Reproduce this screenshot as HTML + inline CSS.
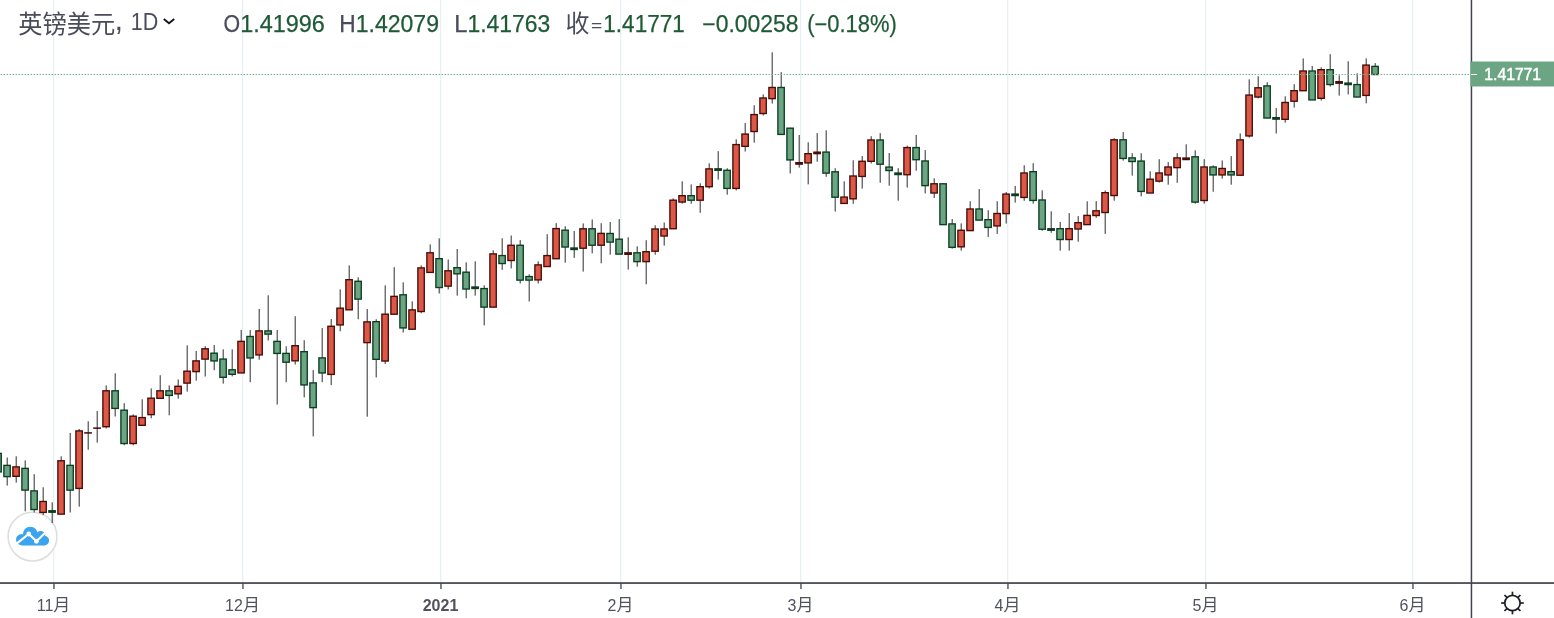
<!DOCTYPE html>
<html lang="zh"><head><meta charset="utf-8"><title>英镑美元 1D</title>
<style>html,body{margin:0;padding:0;background:#fff;overflow:hidden}svg{display:block}text{font-family:"Liberation Sans","Noto Sans CJK SC",sans-serif}</style>
</head><body>
<svg width="1554" height="618" viewBox="0 0 1554 618">
<rect width="1554" height="618" fill="#fff"/>
<g fill="#e6f0f5">
<rect x="53" y="0" width="1.3" height="582"/>
<rect x="242" y="0" width="1.3" height="582"/>
<rect x="440" y="0" width="1.3" height="582"/>
<rect x="620" y="0" width="1.3" height="582"/>
<rect x="800" y="0" width="1.3" height="582"/>
<rect x="1007" y="0" width="1.3" height="582"/>
<rect x="1205" y="0" width="1.3" height="582"/>
<rect x="1412" y="0" width="1.3" height="582"/>
</g>
<g>
<circle cx="32.5" cy="536.6" r="24.4" fill="#fff" stroke="#dedede" stroke-width="1.6"/>
<g fill="#3ba4ee"><circle cx="21.6" cy="539.6" r="5.6"/><circle cx="30.3" cy="534" r="7.3"/><circle cx="40.6" cy="535.5" r="4.6"/><circle cx="44.2" cy="540.6" r="4.9"/><rect x="21.6" y="538" width="22.6" height="7.5"/></g>
<polyline points="16.3,543.9 28.8,534 36.4,541.3 46.5,531.6" fill="none" stroke="#fff" stroke-width="2.1"/>
<circle cx="28.8" cy="534" r="2.4" fill="#fff"/><circle cx="36.4" cy="541.3" r="2.4" fill="#fff"/>
</g>
<g fill="#4d4d50"><rect x="-2.37" y="453.0" width="1.17" height="19.0"/><rect x="6.63" y="457.5" width="1.17" height="28.1"/><rect x="15.63" y="456.3" width="1.17" height="26.3"/><rect x="24.63" y="460.4" width="1.17" height="50.9"/><rect x="33.63" y="474.2" width="1.17" height="38.3"/><rect x="42.63" y="487.3" width="1.17" height="27.7"/><rect x="51.63" y="502.3" width="1.17" height="20.7"/><rect x="60.63" y="456.3" width="1.17" height="57.9"/><rect x="69.63" y="432.9" width="1.17" height="79.6"/><rect x="78.63" y="429.0" width="1.17" height="77.7"/><rect x="87.63" y="421.2" width="1.17" height="28.5"/><rect x="96.63" y="411.1" width="1.17" height="31.5"/><rect x="105.63" y="385.4" width="1.17" height="43.0"/><rect x="114.63" y="373.3" width="1.17" height="43.2"/><rect x="123.63" y="403.2" width="1.17" height="42.1"/><rect x="132.63" y="414.4" width="1.17" height="30.9"/><rect x="141.63" y="399.3" width="1.17" height="26.1"/><rect x="150.63" y="388.4" width="1.17" height="29.9"/><rect x="159.63" y="375.2" width="1.17" height="23.2"/><rect x="168.63" y="385.4" width="1.17" height="29.9"/><rect x="177.63" y="379.5" width="1.17" height="19.2"/><rect x="186.63" y="345.3" width="1.17" height="46.3"/><rect x="195.63" y="351.0" width="1.17" height="29.6"/><rect x="204.63" y="346.2" width="1.17" height="30.3"/><rect x="213.63" y="345.0" width="1.17" height="25.2"/><rect x="222.63" y="349.3" width="1.17" height="34.3"/><rect x="231.63" y="349.4" width="1.17" height="27.0"/><rect x="240.63" y="330.0" width="1.17" height="43.0"/><rect x="249.63" y="330.0" width="1.17" height="52.2"/><rect x="258.63" y="308.9" width="1.17" height="50.8"/><rect x="267.63" y="295.3" width="1.17" height="45.2"/><rect x="276.63" y="330.0" width="1.17" height="74.5"/><rect x="285.63" y="346.3" width="1.17" height="35.9"/><rect x="294.63" y="316.2" width="1.17" height="48.3"/><rect x="303.63" y="340.2" width="1.17" height="57.1"/><rect x="312.63" y="370.1" width="1.17" height="66.3"/><rect x="321.63" y="328.1" width="1.17" height="54.1"/><rect x="330.63" y="319.1" width="1.17" height="66.0"/><rect x="339.63" y="289.4" width="1.17" height="41.9"/><rect x="348.63" y="265.4" width="1.17" height="44.5"/><rect x="357.63" y="277.3" width="1.17" height="42.0"/><rect x="366.63" y="309.0" width="1.17" height="107.7"/><rect x="375.63" y="319.2" width="1.17" height="58.2"/><rect x="384.63" y="285.3" width="1.17" height="78.7"/><rect x="393.63" y="267.2" width="1.17" height="47.1"/><rect x="402.63" y="282.3" width="1.17" height="50.2"/><rect x="411.63" y="301.3" width="1.17" height="28.0"/><rect x="420.63" y="265.4" width="1.17" height="47.9"/><rect x="429.63" y="244.4" width="1.17" height="28.1"/><rect x="438.63" y="238.3" width="1.17" height="55.2"/><rect x="447.63" y="259.5" width="1.17" height="29.9"/><rect x="456.63" y="249.0" width="1.17" height="46.6"/><rect x="465.63" y="262.4" width="1.17" height="35.9"/><rect x="474.63" y="261.3" width="1.17" height="34.3"/><rect x="483.63" y="285.3" width="1.17" height="40.1"/><rect x="492.63" y="250.3" width="1.17" height="56.9"/><rect x="501.63" y="238.3" width="1.17" height="31.5"/><rect x="510.63" y="235.5" width="1.17" height="32.9"/><rect x="519.63" y="240.1" width="1.17" height="43.4"/><rect x="528.63" y="274.3" width="1.17" height="27.2"/><rect x="537.63" y="261.3" width="1.17" height="22.2"/><rect x="546.63" y="234.2" width="1.17" height="32.4"/><rect x="555.63" y="223.2" width="1.17" height="35.6"/><rect x="564.63" y="226.2" width="1.17" height="36.5"/><rect x="573.63" y="231.0" width="1.17" height="26.9"/><rect x="582.63" y="223.4" width="1.17" height="48.2"/><rect x="591.63" y="219.5" width="1.17" height="33.8"/><rect x="600.63" y="223.2" width="1.17" height="40.1"/><rect x="609.63" y="222.0" width="1.17" height="32.7"/><rect x="618.63" y="219.1" width="1.17" height="35.1"/><rect x="627.63" y="237.2" width="1.17" height="32.4"/><rect x="636.63" y="246.3" width="1.17" height="20.4"/><rect x="645.63" y="240.2" width="1.17" height="44.1"/><rect x="654.63" y="225.2" width="1.17" height="29.5"/><rect x="663.63" y="222.5" width="1.17" height="23.1"/><rect x="672.63" y="198.3" width="1.17" height="30.5"/><rect x="681.63" y="181.3" width="1.17" height="22.4"/><rect x="690.63" y="184.4" width="1.17" height="19.3"/><rect x="699.63" y="183.3" width="1.17" height="29.5"/><rect x="708.63" y="163.3" width="1.17" height="25.2"/><rect x="717.63" y="151.2" width="1.17" height="28.4"/><rect x="726.63" y="168.2" width="1.17" height="26.5"/><rect x="735.63" y="139.3" width="1.17" height="51.1"/><rect x="744.63" y="123.1" width="1.17" height="28.4"/><rect x="753.63" y="105.2" width="1.17" height="37.4"/><rect x="762.63" y="94.4" width="1.17" height="21.1"/><rect x="771.63" y="52.3" width="1.17" height="51.3"/><rect x="780.63" y="72.2" width="1.17" height="62.3"/><rect x="789.63" y="127.8" width="1.17" height="45.7"/><rect x="798.63" y="135.0" width="1.17" height="32.6"/><rect x="807.63" y="142.3" width="1.17" height="42.1"/><rect x="816.63" y="133.1" width="1.17" height="28.6"/><rect x="825.63" y="130.3" width="1.17" height="46.5"/><rect x="834.63" y="168.2" width="1.17" height="43.4"/><rect x="843.63" y="181.3" width="1.17" height="22.2"/><rect x="852.63" y="160.3" width="1.17" height="43.5"/><rect x="861.63" y="156.1" width="1.17" height="32.5"/><rect x="870.63" y="136.2" width="1.17" height="27.3"/><rect x="879.63" y="133.1" width="1.17" height="49.7"/><rect x="888.63" y="153.0" width="1.17" height="32.7"/><rect x="897.63" y="168.2" width="1.17" height="32.5"/><rect x="906.63" y="145.6" width="1.17" height="42.0"/><rect x="915.63" y="135.0" width="1.17" height="35.8"/><rect x="924.63" y="150.1" width="1.17" height="43.3"/><rect x="933.63" y="178.3" width="1.17" height="19.7"/><rect x="942.63" y="183.4" width="1.17" height="41.3"/><rect x="951.63" y="219.0" width="1.17" height="29.7"/><rect x="960.63" y="223.4" width="1.17" height="27.2"/><rect x="969.63" y="201.2" width="1.17" height="29.5"/><rect x="978.63" y="189.1" width="1.17" height="31.1"/><rect x="987.63" y="210.2" width="1.17" height="26.7"/><rect x="996.63" y="201.2" width="1.17" height="32.7"/><rect x="1005.63" y="192.0" width="1.17" height="31.6"/><rect x="1014.63" y="185.9" width="1.17" height="16.7"/><rect x="1023.63" y="165.2" width="1.17" height="35.6"/><rect x="1032.63" y="163.2" width="1.17" height="40.5"/><rect x="1041.63" y="190.3" width="1.17" height="40.4"/><rect x="1050.63" y="211.3" width="1.17" height="21.5"/><rect x="1059.63" y="222.0" width="1.17" height="28.6"/><rect x="1068.63" y="213.1" width="1.17" height="37.5"/><rect x="1077.63" y="216.1" width="1.17" height="25.6"/><rect x="1086.63" y="201.3" width="1.17" height="23.4"/><rect x="1095.63" y="201.1" width="1.17" height="16.7"/><rect x="1104.63" y="190.5" width="1.17" height="43.4"/><rect x="1113.63" y="138.3" width="1.17" height="62.4"/><rect x="1122.63" y="132.1" width="1.17" height="28.5"/><rect x="1131.63" y="153.2" width="1.17" height="22.4"/><rect x="1140.63" y="153.2" width="1.17" height="43.2"/><rect x="1149.63" y="171.3" width="1.17" height="21.8"/><rect x="1158.63" y="159.2" width="1.17" height="23.4"/><rect x="1167.63" y="162.1" width="1.17" height="22.6"/><rect x="1176.63" y="153.2" width="1.17" height="29.6"/><rect x="1185.63" y="144.3" width="1.17" height="15.8"/><rect x="1194.63" y="150.3" width="1.17" height="53.4"/><rect x="1203.63" y="159.2" width="1.17" height="44.5"/><rect x="1212.63" y="165.3" width="1.17" height="26.4"/><rect x="1221.63" y="160.5" width="1.17" height="18.1"/><rect x="1230.63" y="156.1" width="1.17" height="28.6"/><rect x="1239.63" y="133.4" width="1.17" height="41.9"/><rect x="1248.63" y="79.3" width="1.17" height="58.3"/><rect x="1257.63" y="76.2" width="1.17" height="22.2"/><rect x="1266.63" y="82.2" width="1.17" height="35.9"/><rect x="1275.63" y="108.1" width="1.17" height="25.4"/><rect x="1284.63" y="96.3" width="1.17" height="26.4"/><rect x="1293.63" y="84.2" width="1.17" height="23.4"/><rect x="1302.63" y="58.4" width="1.17" height="32.4"/><rect x="1311.63" y="66.0" width="1.17" height="34.0"/><rect x="1320.63" y="67.3" width="1.17" height="33.2"/><rect x="1329.63" y="54.2" width="1.17" height="32.4"/><rect x="1338.63" y="75.3" width="1.17" height="20.3"/><rect x="1347.63" y="61.2" width="1.17" height="33.2"/><rect x="1356.63" y="73.3" width="1.17" height="23.8"/><rect x="1365.63" y="58.4" width="1.17" height="44.9"/><rect x="1374.63" y="63.1" width="1.17" height="11.5"/></g>
<g><rect x="-5.80" y="452.7" width="7.75" height="19.9" fill="#0a3d20"/><rect x="-4.45" y="454.05" width="5.05" height="17.20" fill="#6ca583"/><rect x="3.20" y="464.7" width="7.75" height="12.6" fill="#0a3d20"/><rect x="4.55" y="466.05" width="5.05" height="9.90" fill="#6ca583"/><rect x="12.20" y="466.2" width="7.75" height="10.8" fill="#480b06"/><rect x="13.55" y="467.55" width="5.05" height="8.10" fill="#dd5846"/><rect x="21.20" y="467.7" width="7.75" height="23.1" fill="#0a3d20"/><rect x="22.55" y="469.05" width="5.05" height="20.40" fill="#6ca583"/><rect x="30.20" y="490.2" width="7.75" height="20.0" fill="#0a3d20"/><rect x="31.55" y="491.55" width="5.05" height="17.30" fill="#6ca583"/><rect x="39.20" y="500.8" width="7.75" height="12.3" fill="#480b06"/><rect x="40.55" y="502.15" width="5.05" height="9.60" fill="#dd5846"/><rect x="48.20" y="510.07" width="7.75" height="2.85" fill="#0a3d20"/><rect x="57.20" y="460.1" width="7.75" height="54.7" fill="#480b06"/><rect x="58.55" y="461.45" width="5.05" height="52.00" fill="#dd5846"/><rect x="66.20" y="464.7" width="7.75" height="26.1" fill="#0a3d20"/><rect x="67.55" y="466.05" width="5.05" height="23.40" fill="#6ca583"/><rect x="75.20" y="430.2" width="7.75" height="58.9" fill="#480b06"/><rect x="76.55" y="431.55" width="5.05" height="56.20" fill="#dd5846"/><rect x="84.20" y="432.15" width="7.75" height="1.5" fill="#480b06"/><rect x="93.20" y="427.40" width="7.75" height="1.5" fill="#480b06"/><rect x="102.20" y="390.1" width="7.75" height="37.3" fill="#480b06"/><rect x="103.55" y="391.45" width="5.05" height="34.60" fill="#dd5846"/><rect x="111.20" y="390.1" width="7.75" height="19.0" fill="#0a3d20"/><rect x="112.55" y="391.45" width="5.05" height="16.30" fill="#6ca583"/><rect x="120.20" y="409.5" width="7.75" height="34.7" fill="#0a3d20"/><rect x="121.55" y="410.85" width="5.05" height="32.00" fill="#6ca583"/><rect x="129.20" y="415.5" width="7.75" height="28.7" fill="#480b06"/><rect x="130.55" y="416.85" width="5.05" height="26.00" fill="#dd5846"/><rect x="138.20" y="416.9" width="7.75" height="9.1" fill="#480b06"/><rect x="139.55" y="418.25" width="5.05" height="6.40" fill="#dd5846"/><rect x="147.20" y="397.5" width="7.75" height="17.8" fill="#480b06"/><rect x="148.55" y="398.85" width="5.05" height="15.10" fill="#dd5846"/><rect x="156.20" y="390.1" width="7.75" height="8.9" fill="#480b06"/><rect x="157.55" y="391.45" width="5.05" height="6.20" fill="#dd5846"/><rect x="165.20" y="390.1" width="7.75" height="6.0" fill="#0a3d20"/><rect x="166.55" y="391.45" width="5.05" height="3.30" fill="#6ca583"/><rect x="174.20" y="385.6" width="7.75" height="8.9" fill="#480b06"/><rect x="175.55" y="386.95" width="5.05" height="6.20" fill="#dd5846"/><rect x="183.20" y="370.5" width="7.75" height="13.3" fill="#480b06"/><rect x="184.55" y="371.85" width="5.05" height="10.60" fill="#dd5846"/><rect x="192.20" y="360.2" width="7.75" height="12.1" fill="#480b06"/><rect x="193.55" y="361.55" width="5.05" height="9.40" fill="#dd5846"/><rect x="201.20" y="348.1" width="7.75" height="11.7" fill="#480b06"/><rect x="202.55" y="349.45" width="5.05" height="9.00" fill="#dd5846"/><rect x="210.20" y="352.5" width="7.75" height="9.1" fill="#0a3d20"/><rect x="211.55" y="353.85" width="5.05" height="6.40" fill="#6ca583"/><rect x="219.20" y="358.4" width="7.75" height="19.6" fill="#0a3d20"/><rect x="220.55" y="359.75" width="5.05" height="16.90" fill="#6ca583"/><rect x="228.20" y="369.1" width="7.75" height="5.9" fill="#0a3d20"/><rect x="229.55" y="370.45" width="5.05" height="3.20" fill="#6ca583"/><rect x="237.20" y="340.7" width="7.75" height="32.9" fill="#480b06"/><rect x="238.55" y="342.05" width="5.05" height="30.20" fill="#dd5846"/><rect x="246.20" y="335.8" width="7.75" height="22.8" fill="#0a3d20"/><rect x="247.55" y="337.15" width="5.05" height="20.10" fill="#6ca583"/><rect x="255.20" y="330.2" width="7.75" height="25.4" fill="#480b06"/><rect x="256.55" y="331.55" width="5.05" height="22.70" fill="#dd5846"/><rect x="264.20" y="330.2" width="7.75" height="4.6" fill="#0a3d20"/><rect x="265.55" y="331.55" width="5.05" height="1.90" fill="#6ca583"/><rect x="273.20" y="340.7" width="7.75" height="13.4" fill="#0a3d20"/><rect x="274.55" y="342.05" width="5.05" height="10.70" fill="#6ca583"/><rect x="282.20" y="352.7" width="7.75" height="10.2" fill="#0a3d20"/><rect x="283.55" y="354.05" width="5.05" height="7.50" fill="#6ca583"/><rect x="291.20" y="345.0" width="7.75" height="16.5" fill="#480b06"/><rect x="292.55" y="346.35" width="5.05" height="13.80" fill="#dd5846"/><rect x="300.20" y="351.0" width="7.75" height="34.6" fill="#0a3d20"/><rect x="301.55" y="352.35" width="5.05" height="31.90" fill="#6ca583"/><rect x="309.20" y="382.2" width="7.75" height="26.1" fill="#0a3d20"/><rect x="310.55" y="383.55" width="5.05" height="23.40" fill="#6ca583"/><rect x="318.20" y="357.2" width="7.75" height="16.4" fill="#0a3d20"/><rect x="319.55" y="358.55" width="5.05" height="13.70" fill="#6ca583"/><rect x="327.20" y="325.6" width="7.75" height="49.5" fill="#480b06"/><rect x="328.55" y="326.95" width="5.05" height="46.80" fill="#dd5846"/><rect x="336.20" y="307.5" width="7.75" height="18.1" fill="#480b06"/><rect x="337.55" y="308.85" width="5.05" height="15.40" fill="#dd5846"/><rect x="345.20" y="279.0" width="7.75" height="31.5" fill="#480b06"/><rect x="346.55" y="280.35" width="5.05" height="28.80" fill="#dd5846"/><rect x="354.20" y="280.6" width="7.75" height="19.2" fill="#0a3d20"/><rect x="355.55" y="281.95" width="5.05" height="16.50" fill="#6ca583"/><rect x="363.20" y="321.2" width="7.75" height="22.1" fill="#480b06"/><rect x="364.55" y="322.55" width="5.05" height="19.40" fill="#dd5846"/><rect x="372.20" y="321.0" width="7.75" height="39.0" fill="#0a3d20"/><rect x="373.55" y="322.35" width="5.05" height="36.30" fill="#6ca583"/><rect x="381.20" y="313.5" width="7.75" height="48.2" fill="#480b06"/><rect x="382.55" y="314.85" width="5.05" height="45.50" fill="#dd5846"/><rect x="390.20" y="295.7" width="7.75" height="19.2" fill="#480b06"/><rect x="391.55" y="297.05" width="5.05" height="16.50" fill="#dd5846"/><rect x="399.20" y="294.1" width="7.75" height="34.5" fill="#0a3d20"/><rect x="400.55" y="295.45" width="5.05" height="31.80" fill="#6ca583"/><rect x="408.20" y="309.2" width="7.75" height="20.7" fill="#480b06"/><rect x="409.55" y="310.55" width="5.05" height="18.00" fill="#dd5846"/><rect x="417.20" y="267.2" width="7.75" height="45.0" fill="#480b06"/><rect x="418.55" y="268.55" width="5.05" height="42.30" fill="#dd5846"/><rect x="426.20" y="252.1" width="7.75" height="21.0" fill="#480b06"/><rect x="427.55" y="253.45" width="5.05" height="18.30" fill="#dd5846"/><rect x="435.20" y="258.0" width="7.75" height="30.2" fill="#0a3d20"/><rect x="436.55" y="259.35" width="5.05" height="27.50" fill="#6ca583"/><rect x="444.20" y="270.1" width="7.75" height="16.7" fill="#480b06"/><rect x="445.55" y="271.45" width="5.05" height="14.00" fill="#dd5846"/><rect x="453.20" y="267.0" width="7.75" height="7.5" fill="#0a3d20"/><rect x="454.55" y="268.35" width="5.05" height="4.80" fill="#6ca583"/><rect x="462.20" y="271.5" width="7.75" height="18.2" fill="#0a3d20"/><rect x="463.55" y="272.85" width="5.05" height="15.50" fill="#6ca583"/><rect x="471.20" y="286.32" width="7.75" height="2.85" fill="#0a3d20"/><rect x="480.20" y="287.9" width="7.75" height="19.9" fill="#0a3d20"/><rect x="481.55" y="289.25" width="5.05" height="17.20" fill="#6ca583"/><rect x="489.20" y="253.2" width="7.75" height="54.6" fill="#480b06"/><rect x="490.55" y="254.55" width="5.05" height="51.90" fill="#dd5846"/><rect x="498.20" y="254.9" width="7.75" height="9.3" fill="#0a3d20"/><rect x="499.55" y="256.25" width="5.05" height="6.60" fill="#6ca583"/><rect x="507.20" y="244.6" width="7.75" height="16.6" fill="#480b06"/><rect x="508.55" y="245.95" width="5.05" height="13.90" fill="#dd5846"/><rect x="516.20" y="244.6" width="7.75" height="36.2" fill="#0a3d20"/><rect x="517.55" y="245.95" width="5.05" height="33.50" fill="#6ca583"/><rect x="525.20" y="275.9" width="7.75" height="4.9" fill="#0a3d20"/><rect x="526.55" y="277.25" width="5.05" height="2.20" fill="#6ca583"/><rect x="534.20" y="264.2" width="7.75" height="16.4" fill="#480b06"/><rect x="535.55" y="265.55" width="5.05" height="13.70" fill="#dd5846"/><rect x="543.20" y="254.9" width="7.75" height="12.3" fill="#480b06"/><rect x="544.55" y="256.25" width="5.05" height="9.60" fill="#dd5846"/><rect x="552.20" y="227.9" width="7.75" height="31.5" fill="#480b06"/><rect x="553.55" y="229.25" width="5.05" height="28.80" fill="#dd5846"/><rect x="561.20" y="229.5" width="7.75" height="18.2" fill="#0a3d20"/><rect x="562.55" y="230.85" width="5.05" height="15.50" fill="#6ca583"/><rect x="570.20" y="247.32" width="7.75" height="2.85" fill="#0a3d20"/><rect x="579.20" y="228.1" width="7.75" height="20.8" fill="#480b06"/><rect x="580.55" y="229.45" width="5.05" height="18.10" fill="#dd5846"/><rect x="588.20" y="228.1" width="7.75" height="17.8" fill="#0a3d20"/><rect x="589.55" y="229.45" width="5.05" height="15.10" fill="#6ca583"/><rect x="597.20" y="232.7" width="7.75" height="13.2" fill="#480b06"/><rect x="598.55" y="234.05" width="5.05" height="10.50" fill="#dd5846"/><rect x="606.20" y="232.8" width="7.75" height="10.0" fill="#0a3d20"/><rect x="607.55" y="234.15" width="5.05" height="7.30" fill="#6ca583"/><rect x="615.20" y="238.5" width="7.75" height="16.3" fill="#0a3d20"/><rect x="616.55" y="239.85" width="5.05" height="13.60" fill="#6ca583"/><rect x="624.20" y="252.12" width="7.75" height="2.85" fill="#480b06"/><rect x="633.20" y="252.1" width="7.75" height="10.2" fill="#0a3d20"/><rect x="634.55" y="253.45" width="5.05" height="7.50" fill="#6ca583"/><rect x="642.20" y="251.0" width="7.75" height="11.3" fill="#480b06"/><rect x="643.55" y="252.35" width="5.05" height="8.60" fill="#dd5846"/><rect x="651.20" y="228.3" width="7.75" height="23.6" fill="#480b06"/><rect x="652.55" y="229.65" width="5.05" height="20.90" fill="#dd5846"/><rect x="660.20" y="228.3" width="7.75" height="8.4" fill="#480b06"/><rect x="661.55" y="229.65" width="5.05" height="5.70" fill="#dd5846"/><rect x="669.20" y="199.5" width="7.75" height="29.9" fill="#480b06"/><rect x="670.55" y="200.85" width="5.05" height="27.20" fill="#dd5846"/><rect x="678.20" y="195.0" width="7.75" height="7.7" fill="#480b06"/><rect x="679.55" y="196.35" width="5.05" height="5.00" fill="#dd5846"/><rect x="687.20" y="195.0" width="7.75" height="5.9" fill="#0a3d20"/><rect x="688.55" y="196.35" width="5.05" height="3.20" fill="#6ca583"/><rect x="696.20" y="186.0" width="7.75" height="14.9" fill="#480b06"/><rect x="697.55" y="187.35" width="5.05" height="12.20" fill="#dd5846"/><rect x="705.20" y="168.2" width="7.75" height="19.2" fill="#480b06"/><rect x="706.55" y="169.55" width="5.05" height="16.50" fill="#dd5846"/><rect x="714.20" y="168.12" width="7.75" height="2.85" fill="#0a3d20"/><rect x="723.20" y="169.6" width="7.75" height="19.5" fill="#0a3d20"/><rect x="724.55" y="170.95" width="5.05" height="16.80" fill="#6ca583"/><rect x="732.20" y="143.9" width="7.75" height="45.2" fill="#480b06"/><rect x="733.55" y="145.25" width="5.05" height="42.50" fill="#dd5846"/><rect x="741.20" y="133.4" width="7.75" height="13.6" fill="#480b06"/><rect x="742.55" y="134.75" width="5.05" height="10.90" fill="#dd5846"/><rect x="750.20" y="113.9" width="7.75" height="18.3" fill="#480b06"/><rect x="751.55" y="115.25" width="5.05" height="15.60" fill="#dd5846"/><rect x="759.20" y="97.3" width="7.75" height="16.9" fill="#480b06"/><rect x="760.55" y="98.65" width="5.05" height="14.20" fill="#dd5846"/><rect x="768.20" y="86.8" width="7.75" height="12.5" fill="#480b06"/><rect x="769.55" y="88.15" width="5.05" height="9.80" fill="#dd5846"/><rect x="777.20" y="86.8" width="7.75" height="48.3" fill="#0a3d20"/><rect x="778.55" y="88.15" width="5.05" height="45.60" fill="#6ca583"/><rect x="786.20" y="127.5" width="7.75" height="33.1" fill="#0a3d20"/><rect x="787.55" y="128.85" width="5.05" height="30.40" fill="#6ca583"/><rect x="795.20" y="161.97" width="7.75" height="2.85" fill="#480b06"/><rect x="804.20" y="153.0" width="7.75" height="10.6" fill="#480b06"/><rect x="805.55" y="154.35" width="5.05" height="7.90" fill="#dd5846"/><rect x="813.20" y="151.47" width="7.75" height="2.85" fill="#480b06"/><rect x="822.20" y="151.4" width="7.75" height="22.4" fill="#0a3d20"/><rect x="823.55" y="152.75" width="5.05" height="19.70" fill="#6ca583"/><rect x="831.20" y="171.1" width="7.75" height="26.8" fill="#0a3d20"/><rect x="832.55" y="172.45" width="5.05" height="24.10" fill="#6ca583"/><rect x="840.20" y="196.4" width="7.75" height="7.7" fill="#480b06"/><rect x="841.55" y="197.75" width="5.05" height="5.00" fill="#dd5846"/><rect x="849.20" y="175.3" width="7.75" height="24.2" fill="#480b06"/><rect x="850.55" y="176.65" width="5.05" height="21.50" fill="#dd5846"/><rect x="858.20" y="160.6" width="7.75" height="16.5" fill="#480b06"/><rect x="859.55" y="161.95" width="5.05" height="13.80" fill="#dd5846"/><rect x="867.20" y="139.3" width="7.75" height="22.7" fill="#480b06"/><rect x="868.55" y="140.65" width="5.05" height="20.00" fill="#dd5846"/><rect x="876.20" y="139.3" width="7.75" height="25.6" fill="#0a3d20"/><rect x="877.55" y="140.65" width="5.05" height="22.90" fill="#6ca583"/><rect x="885.20" y="166.4" width="7.75" height="4.8" fill="#0a3d20"/><rect x="886.55" y="167.75" width="5.05" height="2.10" fill="#6ca583"/><rect x="894.20" y="172.38" width="7.75" height="2.85" fill="#0a3d20"/><rect x="903.20" y="146.9" width="7.75" height="28.5" fill="#480b06"/><rect x="904.55" y="148.25" width="5.05" height="25.80" fill="#dd5846"/><rect x="912.20" y="146.9" width="7.75" height="13.5" fill="#0a3d20"/><rect x="913.55" y="148.25" width="5.05" height="10.80" fill="#6ca583"/><rect x="921.20" y="160.3" width="7.75" height="26.0" fill="#0a3d20"/><rect x="922.55" y="161.65" width="5.05" height="23.30" fill="#6ca583"/><rect x="930.20" y="183.1" width="7.75" height="10.6" fill="#480b06"/><rect x="931.55" y="184.45" width="5.05" height="7.90" fill="#dd5846"/><rect x="939.20" y="183.1" width="7.75" height="42.2" fill="#0a3d20"/><rect x="940.55" y="184.45" width="5.05" height="39.50" fill="#6ca583"/><rect x="948.20" y="223.2" width="7.75" height="24.8" fill="#0a3d20"/><rect x="949.55" y="224.55" width="5.05" height="22.10" fill="#6ca583"/><rect x="957.20" y="229.6" width="7.75" height="17.9" fill="#480b06"/><rect x="958.55" y="230.95" width="5.05" height="15.20" fill="#dd5846"/><rect x="966.20" y="208.3" width="7.75" height="23.0" fill="#480b06"/><rect x="967.55" y="209.65" width="5.05" height="20.30" fill="#dd5846"/><rect x="975.20" y="208.3" width="7.75" height="12.5" fill="#0a3d20"/><rect x="976.55" y="209.65" width="5.05" height="9.80" fill="#6ca583"/><rect x="984.20" y="219.0" width="7.75" height="9.1" fill="#0a3d20"/><rect x="985.55" y="220.35" width="5.05" height="6.40" fill="#6ca583"/><rect x="993.20" y="212.8" width="7.75" height="13.8" fill="#480b06"/><rect x="994.55" y="214.15" width="5.05" height="11.10" fill="#dd5846"/><rect x="1002.20" y="193.4" width="7.75" height="20.9" fill="#480b06"/><rect x="1003.55" y="194.75" width="5.05" height="18.20" fill="#dd5846"/><rect x="1011.20" y="193.38" width="7.75" height="2.85" fill="#0a3d20"/><rect x="1020.20" y="172.3" width="7.75" height="25.8" fill="#480b06"/><rect x="1021.55" y="173.65" width="5.05" height="23.10" fill="#dd5846"/><rect x="1029.20" y="171.0" width="7.75" height="30.1" fill="#0a3d20"/><rect x="1030.55" y="172.35" width="5.05" height="27.40" fill="#6ca583"/><rect x="1038.20" y="199.3" width="7.75" height="30.6" fill="#0a3d20"/><rect x="1039.55" y="200.65" width="5.05" height="27.90" fill="#6ca583"/><rect x="1047.20" y="228.07" width="7.75" height="2.85" fill="#0a3d20"/><rect x="1056.20" y="228.0" width="7.75" height="12.2" fill="#0a3d20"/><rect x="1057.55" y="229.35" width="5.05" height="9.50" fill="#6ca583"/><rect x="1065.20" y="228.0" width="7.75" height="12.2" fill="#480b06"/><rect x="1066.55" y="229.35" width="5.05" height="9.50" fill="#dd5846"/><rect x="1074.20" y="222.0" width="7.75" height="7.7" fill="#480b06"/><rect x="1075.55" y="223.35" width="5.05" height="5.00" fill="#dd5846"/><rect x="1083.20" y="214.7" width="7.75" height="10.6" fill="#480b06"/><rect x="1084.55" y="216.05" width="5.05" height="7.90" fill="#dd5846"/><rect x="1092.20" y="210.1" width="7.75" height="6.1" fill="#480b06"/><rect x="1093.55" y="211.45" width="5.05" height="3.40" fill="#dd5846"/><rect x="1101.20" y="192.0" width="7.75" height="21.2" fill="#480b06"/><rect x="1102.55" y="193.35" width="5.05" height="18.50" fill="#dd5846"/><rect x="1110.20" y="139.1" width="7.75" height="57.1" fill="#480b06"/><rect x="1111.55" y="140.45" width="5.05" height="54.40" fill="#dd5846"/><rect x="1119.20" y="139.1" width="7.75" height="20.0" fill="#0a3d20"/><rect x="1120.55" y="140.45" width="5.05" height="17.30" fill="#6ca583"/><rect x="1128.20" y="157.2" width="7.75" height="5.0" fill="#0a3d20"/><rect x="1129.55" y="158.55" width="5.05" height="2.30" fill="#6ca583"/><rect x="1137.20" y="160.4" width="7.75" height="31.7" fill="#0a3d20"/><rect x="1138.55" y="161.75" width="5.05" height="29.00" fill="#6ca583"/><rect x="1146.20" y="178.5" width="7.75" height="15.2" fill="#480b06"/><rect x="1147.55" y="179.85" width="5.05" height="12.50" fill="#dd5846"/><rect x="1155.20" y="172.3" width="7.75" height="9.5" fill="#480b06"/><rect x="1156.55" y="173.65" width="5.05" height="6.80" fill="#dd5846"/><rect x="1164.20" y="166.3" width="7.75" height="9.3" fill="#480b06"/><rect x="1165.55" y="167.65" width="5.05" height="6.60" fill="#dd5846"/><rect x="1173.20" y="157.2" width="7.75" height="11.1" fill="#480b06"/><rect x="1174.55" y="158.55" width="5.05" height="8.40" fill="#dd5846"/><rect x="1182.20" y="157.38" width="7.75" height="2.85" fill="#480b06"/><rect x="1191.20" y="156.1" width="7.75" height="46.7" fill="#0a3d20"/><rect x="1192.55" y="157.45" width="5.05" height="44.00" fill="#6ca583"/><rect x="1200.20" y="166.3" width="7.75" height="34.9" fill="#480b06"/><rect x="1201.55" y="167.65" width="5.05" height="32.20" fill="#dd5846"/><rect x="1209.20" y="166.3" width="7.75" height="9.3" fill="#0a3d20"/><rect x="1210.55" y="167.65" width="5.05" height="6.60" fill="#6ca583"/><rect x="1218.20" y="167.8" width="7.75" height="7.8" fill="#480b06"/><rect x="1219.55" y="169.15" width="5.05" height="5.10" fill="#dd5846"/><rect x="1227.20" y="171.0" width="7.75" height="4.6" fill="#0a3d20"/><rect x="1228.55" y="172.35" width="5.05" height="1.90" fill="#6ca583"/><rect x="1236.20" y="139.2" width="7.75" height="36.7" fill="#480b06"/><rect x="1237.55" y="140.55" width="5.05" height="34.00" fill="#dd5846"/><rect x="1245.20" y="94.4" width="7.75" height="42.2" fill="#480b06"/><rect x="1246.55" y="95.75" width="5.05" height="39.50" fill="#dd5846"/><rect x="1254.20" y="87.1" width="7.75" height="10.6" fill="#480b06"/><rect x="1255.55" y="88.45" width="5.05" height="7.90" fill="#dd5846"/><rect x="1263.20" y="85.2" width="7.75" height="33.5" fill="#0a3d20"/><rect x="1264.55" y="86.55" width="5.05" height="30.80" fill="#6ca583"/><rect x="1272.20" y="116.98" width="7.75" height="2.85" fill="#0a3d20"/><rect x="1281.20" y="101.8" width="7.75" height="18.2" fill="#480b06"/><rect x="1282.55" y="103.15" width="5.05" height="15.50" fill="#dd5846"/><rect x="1290.20" y="90.0" width="7.75" height="11.9" fill="#480b06"/><rect x="1291.55" y="91.35" width="5.05" height="9.20" fill="#dd5846"/><rect x="1299.20" y="70.3" width="7.75" height="21.1" fill="#480b06"/><rect x="1300.55" y="71.65" width="5.05" height="18.40" fill="#dd5846"/><rect x="1308.20" y="70.3" width="7.75" height="30.3" fill="#0a3d20"/><rect x="1309.55" y="71.65" width="5.05" height="27.60" fill="#6ca583"/><rect x="1317.20" y="69.0" width="7.75" height="30.0" fill="#480b06"/><rect x="1318.55" y="70.35" width="5.05" height="27.30" fill="#dd5846"/><rect x="1326.20" y="69.0" width="7.75" height="16.2" fill="#0a3d20"/><rect x="1327.55" y="70.35" width="5.05" height="13.50" fill="#6ca583"/><rect x="1335.20" y="81.03" width="7.75" height="2.85" fill="#480b06"/><rect x="1344.20" y="82.42" width="7.75" height="2.85" fill="#0a3d20"/><rect x="1353.20" y="83.9" width="7.75" height="13.8" fill="#0a3d20"/><rect x="1354.55" y="85.25" width="5.05" height="11.10" fill="#6ca583"/><rect x="1362.20" y="64.4" width="7.75" height="31.7" fill="#480b06"/><rect x="1363.55" y="65.75" width="5.05" height="29.00" fill="#dd5846"/><rect x="1371.20" y="65.7" width="7.75" height="9.5" fill="#0a3d20"/><rect x="1372.55" y="67.05" width="5.05" height="6.80" fill="#6ca583"/></g>
<line x1="0.6" y1="74.5" x2="1469.5" y2="74.5" stroke="#6fae8b" stroke-width="1.1" stroke-dasharray="1.5 1.5"/>
<rect x="0" y="582.2" width="1554" height="1.7" fill="#42434f"/>
<rect x="1470.7" y="0" width="1.5" height="618" fill="#42434f"/>
<rect x="53.3" y="583" width="1.3" height="6" fill="#42434f"/>
<text x="53.5" y="611.4" font-size="16" text-anchor="middle" fill="#50535e">11<tspan font-size="17">月</tspan></text>
<rect x="242.3" y="583" width="1.3" height="6" fill="#42434f"/>
<text x="242.5" y="611.4" font-size="16" text-anchor="middle" fill="#50535e">12<tspan font-size="17">月</tspan></text>
<rect x="440.3" y="583" width="1.3" height="6" fill="#42434f"/>
<text x="440.5" y="611.4" font-size="16" text-anchor="middle" fill="#50535e" font-weight="bold">2021</text>
<rect x="620.3" y="583" width="1.3" height="6" fill="#42434f"/>
<text x="620.5" y="611.4" font-size="16" text-anchor="middle" fill="#50535e">2<tspan font-size="17">月</tspan></text>
<rect x="800.3" y="583" width="1.3" height="6" fill="#42434f"/>
<text x="800.5" y="611.4" font-size="16" text-anchor="middle" fill="#50535e">3<tspan font-size="17">月</tspan></text>
<rect x="1007.3" y="583" width="1.3" height="6" fill="#42434f"/>
<text x="1007.5" y="611.4" font-size="16" text-anchor="middle" fill="#50535e">4<tspan font-size="17">月</tspan></text>
<rect x="1205.3" y="583" width="1.3" height="6" fill="#42434f"/>
<text x="1205.5" y="611.4" font-size="16" text-anchor="middle" fill="#50535e">5<tspan font-size="17">月</tspan></text>
<rect x="1412.3" y="583" width="1.3" height="6" fill="#42434f"/>
<text x="1412.5" y="611.4" font-size="16" text-anchor="middle" fill="#50535e">6<tspan font-size="17">月</tspan></text>
<rect x="1470.3" y="61.5" width="84" height="25" fill="#6ba583"/>
<rect x="1471" y="74" width="6" height="1" fill="#fff"/>
<text x="1484.3" y="80" font-size="16" fill="#fff" textLength="56.8" lengthAdjust="spacingAndGlyphs" stroke="#fff" stroke-width="0.5">1.41771</text>
<g stroke="#1c1e26" fill="none"><circle cx="1512.45" cy="603.0" r="7.7" stroke-width="1.75"/>
<line x1="1520.35" y1="603.00" x2="1523.75" y2="603.00" stroke-width="1.7"/>
<line x1="1518.04" y1="608.59" x2="1520.44" y2="610.99" stroke-width="1.7"/>
<line x1="1512.45" y1="610.90" x2="1512.45" y2="614.30" stroke-width="1.7"/>
<line x1="1506.86" y1="608.59" x2="1504.46" y2="610.99" stroke-width="1.7"/>
<line x1="1504.55" y1="603.00" x2="1501.15" y2="603.00" stroke-width="1.7"/>
<line x1="1506.86" y1="597.41" x2="1504.46" y2="595.01" stroke-width="1.7"/>
<line x1="1512.45" y1="595.10" x2="1512.45" y2="591.70" stroke-width="1.7"/>
<line x1="1518.04" y1="597.41" x2="1520.44" y2="595.01" stroke-width="1.7"/>
</g>
<text x="18.2" y="32.6" font-size="25" fill="#4b4c5b" textLength="97" lengthAdjust="spacingAndGlyphs">英镑美元</text>
<text x="114.6" y="30.3" font-size="31" fill="#4b4c5b">,</text>
<text x="130.8" y="29.7" font-size="23.3" fill="#4b4c5b" textLength="27.5" lengthAdjust="spacingAndGlyphs">1D</text>
<polyline points="163.8,18.9 169,23.3 174.2,18.9" fill="none" stroke="#131722" stroke-width="1.9"/>
<text y="31.8" font-size="23.3"><tspan x="223.6" fill="#4b4c5b" stroke="#4b4c5b" stroke-width="0.25" textLength="16.599999999999994" lengthAdjust="spacingAndGlyphs">O</tspan><tspan x="240.2" fill="#1f5a36" stroke="#1f5a36" stroke-width="0.25" textLength="84.60000000000002" lengthAdjust="spacingAndGlyphs">1.41996</tspan></text>
<text y="31.8" font-size="23.3"><tspan x="339.3" fill="#4b4c5b" stroke="#4b4c5b" stroke-width="0.25" textLength="16.399999999999977" lengthAdjust="spacingAndGlyphs">H</tspan><tspan x="355.7" fill="#1f5a36" stroke="#1f5a36" stroke-width="0.25" textLength="83.30000000000001" lengthAdjust="spacingAndGlyphs">1.42079</tspan></text>
<text y="31.8" font-size="23.3"><tspan x="454.3" fill="#4b4c5b" stroke="#4b4c5b" stroke-width="0.25" textLength="13.199999999999989" lengthAdjust="spacingAndGlyphs">L</tspan><tspan x="467.5" fill="#1f5a36" stroke="#1f5a36" stroke-width="0.25" textLength="82.79999999999995" lengthAdjust="spacingAndGlyphs">1.41763</tspan></text>
<text x="565.5" y="31.8" font-size="24" fill="#4b4c5b">收</text>
<text x="591" y="31.0" font-size="16" fill="#4b4c5b" textLength="11.2" lengthAdjust="spacingAndGlyphs">=</text>
<text x="603.3" y="31.8" font-size="23.3" fill="#1f5a36" stroke="#1f5a36" stroke-width="0.25" textLength="81.6" lengthAdjust="spacingAndGlyphs">1.41771</text>
<text x="702.3" y="31.8" font-size="23.3" fill="#1f5a36" stroke="#1f5a36" stroke-width="0.25" textLength="96.3" lengthAdjust="spacingAndGlyphs">−0.00258</text>
<text x="807.2" y="31.8" font-size="23.3" fill="#1f5a36" stroke="#1f5a36" stroke-width="0.25" textLength="89.6" lengthAdjust="spacingAndGlyphs">(−0.18%)</text>
</svg></body></html>
